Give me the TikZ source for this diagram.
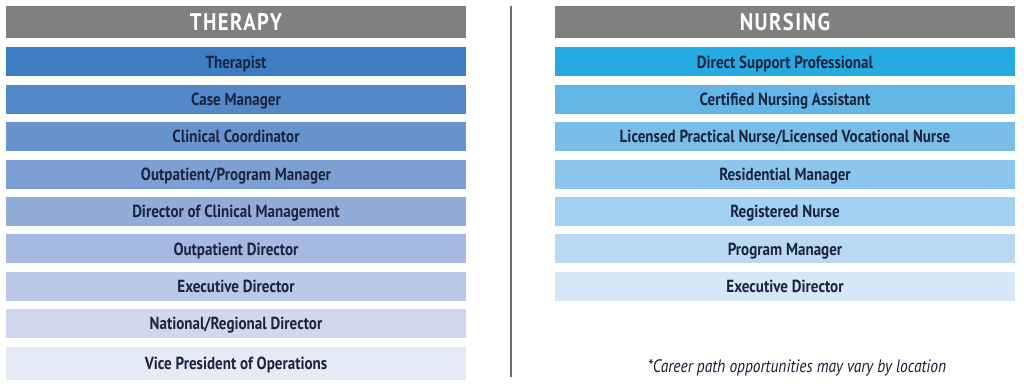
\documentclass[tikz,border=0pt]{standalone}
\usepackage{fontspec}
\setmainfont[FakeStretch=0.86]{PT Sans}
\usepackage{xcolor}
\usepackage{tikz}
\usetikzlibrary{positioning}

\definecolor{headgray}{RGB}{128,128,130}
\definecolor{navytext}{RGB}{28,36,62}
\definecolor{rulegray}{RGB}{110,110,112}
% therapy shades
\definecolor{thA}{RGB}{60,125,196}
\definecolor{thB}{RGB}{83,137,201}
\definecolor{thC}{RGB}{104,148,206}
\definecolor{thD}{RGB}{125,160,212}
\definecolor{thE}{RGB}{146,172,218}
\definecolor{thF}{RGB}{165,185,225}
\definecolor{thG}{RGB}{186,201,232}
\definecolor{thH}{RGB}{207,216,239}
\definecolor{thI}{RGB}{230,234,247}
% nursing shades
\definecolor{nuA}{RGB}{37,170,225}
\definecolor{nuB}{RGB}{100,182,230}
\definecolor{nuC}{RGB}{121,190,233}
\definecolor{nuD}{RGB}{141,198,236}
\definecolor{nuE}{RGB}{162,208,240}
\definecolor{nuF}{RGB}{186,218,243}
\definecolor{nuG}{RGB}{214,231,247}

\begin{document}
\begin{tikzpicture}[
    x=1pt, y=-1pt,
    node distance=8pt,
    header/.style={rectangle, fill=headgray, text=white, minimum width=460pt, minimum height=32pt,
        text height=17pt, text depth=0pt, font=\fontsize{24}{26}\selectfont\bfseries},
    role/.style={rectangle, minimum width=460pt, minimum height=29pt, text=navytext,
        text height=12.5pt, text depth=0pt, font=\fontsize{17.5}{20}\selectfont\bfseries},
    note/.style={font=\fontsize{18}{20}\selectfont\itshape, text=navytext!80!black}
]
    \useasboundingbox (0,0) rectangle (1024,383);

    % Therapy column
    \node[header] (therapy) at (236,22) {\addfontfeature{LetterSpace=6}THERAPY};
    \node[role, fill=thA, below=9pt of therapy] (t1) {Therapist};
    \node[role, fill=thB, below=of t1] (t2) {Case Manager};
    \node[role, fill=thC, below=of t2] (t3) {Clinical Coordinator};
    \node[role, fill=thD, below=of t3] (t4) {Outpatient/Program Manager};
    \node[role, fill=thE, below=of t4] (t5) {Director of Clinical Management};
    \node[role, fill=thF, below=of t5] (t6) {Outpatient Director};
    \node[role, fill=thG, below=of t6] (t7) {Executive Director};
    \node[role, fill=thH, below=of t7] (t8) {National/Regional Director};
    \node[role, fill=thI, below=of t8, minimum height=33pt] (t9) {Vice President of Operations};

    % Nursing column
    \node[header] (nursing) at (785,22) {\addfontfeature{LetterSpace=6}NURSING};
    \node[role, fill=nuA, below=9pt of nursing] (n1) {Direct Support Professional};
    \node[role, fill=nuB, below=of n1] (n2) {Certified Nursing Assistant};
    \node[role, fill=nuC, below=of n2] (n3) {Licensed Practical Nurse/Licensed Vocational Nurse};
    \node[role, fill=nuD, below=of n3] (n4) {Residential Manager};
    \node[role, fill=nuE, below=of n4] (n5) {Registered Nurse};
    \node[role, fill=nuF, below=of n5] (n6) {Program Manager};
    \node[role, fill=nuG, below=of n6] (n7) {Executive Director};

    % divider and footnote
    \coordinate (divtop) at (511,6);
    \coordinate (divbot) at (511,377);
    \draw[rulegray, line width=1.2pt] (divtop) -- (divbot);
    \node[note] (footnote) at (797,368) {*Career path opportunities may vary by location};
\end{tikzpicture}
\end{document}
